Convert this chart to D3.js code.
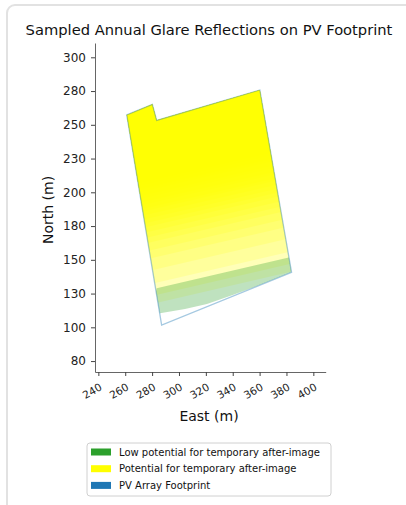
<!DOCTYPE html>
<html><head><meta charset="utf-8">
<script src="https://cdn.jsdelivr.net/npm/d3@7"></script>
<style>
html,body{margin:0;padding:0;background:#fff;}
svg{display:block;font-family:"DejaVu Sans",sans-serif;}
</style></head>
<body>
<svg id="chart" width="406" height="505"></svg>
<script>
// ---- data ----
const footprintEast  = [261.1, 280.2, 283.4, 360.2, 383.8, 287.1];
const footprintNorth = [257.3, 265.2, 253.3, 275.8, 140.7, 101.7];
// green (low potential) region outline
const greenEast  = [283.4, 382.5, 383.8, 360.2, 337.9, 320.8, 304.5, 285.9, 280.0];
const greenNorth = [128.9, 151.9, 140.7, 131.4, 123.2, 117.3, 113.6, 110.4, 110.4];
// yellow glare bands: bottom boundary north at east=283 (left) and east=383 (right)
const bandLeftNorth  = [118,124,133,143,152,158,164,168,172,176,179,182,185,188,190,193,195,198,200,203,205,208,210];
const bandRightNorth = [141,147,156,166,175,181,187,191,195,199,202,205,208,211,213,216,218,221,223,226,228,231,233];
const bandLeftEast = 283, bandRightEast = 383, bandTopNorth = 300;
const xTicks = [240,260,280,300,320,340,360,380,400];
const yTicks = [75,100,125,150,175,200,225,250,275,300];
const yTickLabels = ["80","100","130","150","180","200","230","250","280","300"];
const legendLabels = ["Low potential for temporary after-image","Potential for temporary after-image","PV Array Footprint"];
const legendColors = ["#2ca02c","#ffff00","#1f77b4"];

const svg = d3.select("#chart");
// card
svg.append("rect").attr("x",7).attr("y",5).attr("width",420).attr("height",520)
  .attr("rx",8).attr("fill","#fff").attr("stroke","#e2e2e2").attr("stroke-width",2);

const x = d3.scaleLinear().domain([237.5, 409.2]).range([95, 325.7]);
const y = d3.scaleLinear().domain([66.9, 310.6]).range([372, 43]);

const fpPts = footprintEast.map((e,i)=>[x(e), y(footprintNorth[i])]);
const line = d3.line().curve(d3.curveLinearClosed);

svg.append("defs").append("clipPath").attr("id","fp")
  .append("path").attr("d", line(fpPts));

const g = svg.append("g").attr("clip-path","url(#fp)");
bandLeftNorth.forEach((ln,i)=>{
  const at = e => ln + (bandRightNorth[i]-ln)*(e-bandLeftEast)/(bandRightEast-bandLeftEast);
  const pts = [[x(200), y(at(200))], [x(200), y(bandTopNorth)], [x(420), y(bandTopNorth)], [x(420), y(at(420))]];
  g.append("path").attr("d", line(pts)).attr("fill","#ffff00").attr("fill-opacity",0.15);
});
g.append("path").attr("d", line(greenEast.map((e,i)=>[x(e),y(greenNorth[i])])))
  .attr("fill","#2ca02c").attr("fill-opacity",0.3);

svg.append("path").attr("d", line(fpPts)).attr("fill","none")
  .attr("stroke","#1f77b4").attr("stroke-opacity",0.4).attr("stroke-width",1.3);

// axes
const ax = svg.append("g").attr("transform","translate(0,372)")
  .call(d3.axisBottom(x).tickValues(xTicks).tickSize(4).tickSizeOuter(0));
ax.selectAll("text").attr("text-anchor","end").attr("y",0)
  .attr("transform","translate(2,14) rotate(-30)").attr("dy","0.35em");
const ay = svg.append("g").attr("transform","translate(95,0)")
  .call(d3.axisLeft(y).tickValues(yTicks).tickFormat((d,i)=>yTickLabels[i]).tickSize(4).tickSizeOuter(0));
[ax,ay].forEach(a=>{
  a.select(".domain").attr("stroke","#666").attr("stroke-width",1);
  a.selectAll(".tick line").attr("stroke","#444");
  a.selectAll("text").attr("fill","#222").attr("font-family","DejaVu Sans");
});
ax.selectAll("text").attr("font-size",10.5);
ay.selectAll("text").attr("font-size",12).attr("x",-9);

svg.append("text").attr("x",209).attr("y",35).attr("text-anchor","middle")
  .attr("font-size",14.7).attr("fill","#111").text("Sampled Annual Glare Reflections on PV Footprint");
svg.append("text").attr("x",209).attr("y",421).attr("text-anchor","middle")
  .attr("font-size",14).attr("fill","#111").text("East (m)");
svg.append("text").attr("transform","translate(52.5,210) rotate(-90)").attr("text-anchor","middle")
  .attr("font-size",14).attr("fill","#111").text("North (m)");

// legend
const lg = svg.append("g");
lg.append("rect").attr("x",87).attr("y",443).attr("width",244).attr("height",53).attr("rx",3)
  .attr("fill","#fff").attr("stroke","#d0d0d0");
legendLabels.forEach((t,i)=>{
  const cy = 452 + i*16.7;
  lg.append("rect").attr("x",91).attr("y",cy-3.5).attr("width",20).attr("height",7).attr("fill",legendColors[i]);
  lg.append("text").attr("x",119).attr("y",cy).attr("dy","0.35em").attr("font-size",10).attr("fill","#111").text(t);
});
</script>
</body></html>
